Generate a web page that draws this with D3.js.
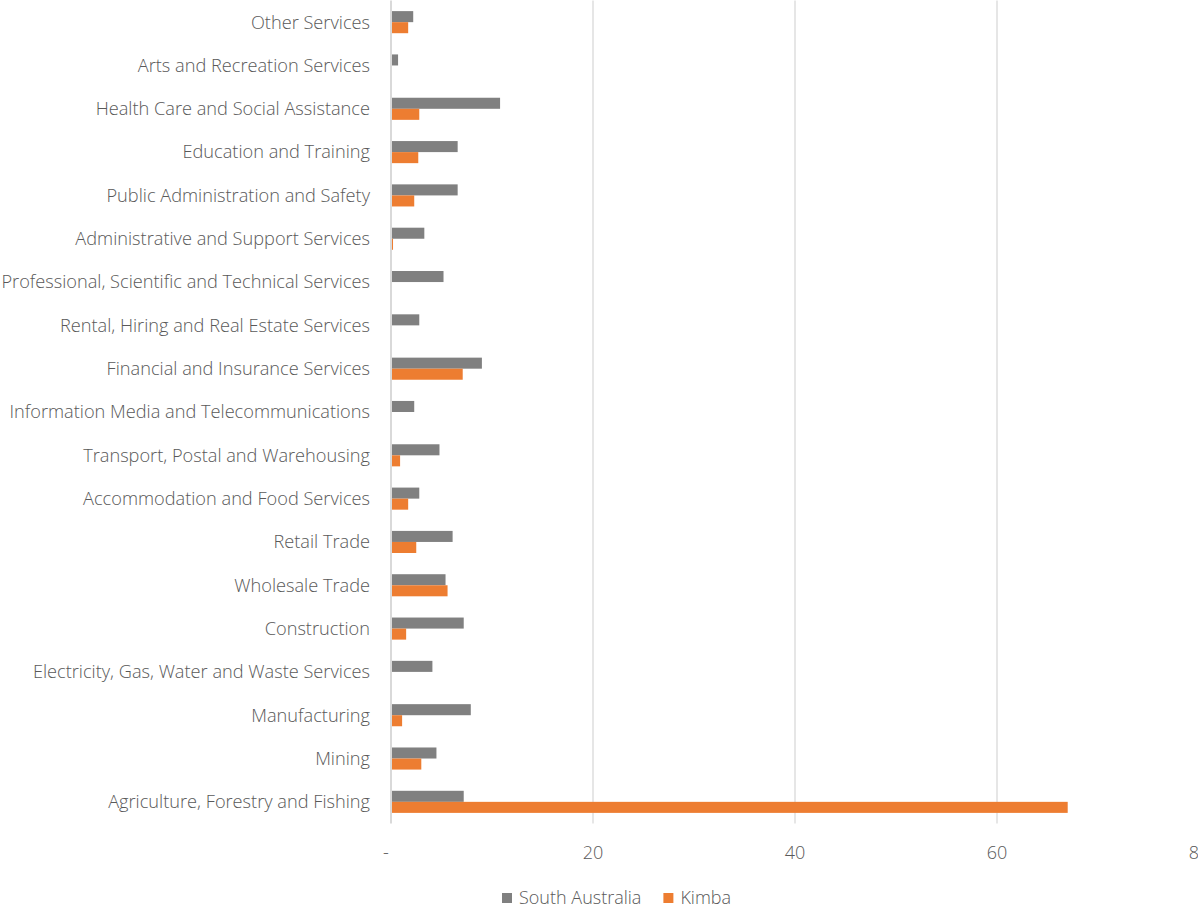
<!DOCTYPE html>
<html>
<head>
<meta charset="utf-8">
<script src="https://cdn.jsdelivr.net/npm/d3@7"></script>
<style>
  body { margin: 0; background: #fff; }
  svg text { font-family: "Open Sans", sans-serif; font-weight: 300; fill: #595959; }
</style>
</head>
<body>
<svg id="chart" width="1198" height="911"></svg>
<script>
// industries, top to bottom
const categories = [
  "Other Services",
  "Arts and Recreation Services",
  "Health Care and Social Assistance",
  "Education and Training",
  "Public Administration and Safety",
  "Administrative and Support Services",
  "Professional, Scientific and Technical Services",
  "Rental, Hiring and Real Estate Services",
  "Financial and Insurance Services",
  "Information Media and Telecommunications",
  "Transport, Postal and Warehousing",
  "Accommodation and Food Services",
  "Retail Trade",
  "Wholesale Trade",
  "Construction",
  "Electricity, Gas, Water and Waste Services",
  "Manufacturing",
  "Mining",
  "Agriculture, Forestry and Fishing"
];
const southAustralia = [2.2, 0.7, 10.8, 6.6, 6.6, 3.3, 5.2, 2.8, 9.0, 2.3, 4.8, 2.8, 6.1, 5.4, 7.2, 4.1, 7.9, 4.5, 7.2];
const kimba = [1.7, 0, 2.8, 2.7, 2.3, 0.2, 0, 0, 7.1, 0, 0.9, 1.7, 2.5, 5.6, 1.5, 0, 1.1, 3.0, 67.0];
const seriesNames = ["South Australia", "Kimba"];
const seriesColors = ["#808080", "#ed7d31"];
const xTicks = [0, 20, 40, 60, 80];

const svg = d3.select("#chart");
const plotLeft = 391, plotRight = 1199, plotTop = 0.5, plotBottom = 823.5;

const x = d3.scaleLinear().domain([0, 80]).range([plotLeft, plotRight]);
const y = d3.scaleBand().domain(categories).range([plotTop, plotBottom]).paddingInner(0.49).paddingOuter(0.245);

// gridlines
svg.append("g").selectAll("line")
  .data(xTicks.filter(d => d > 0))
  .join("line")
  .attr("x1", d => x(d)).attr("x2", d => x(d))
  .attr("y1", plotTop).attr("y2", plotBottom)
  .attr("stroke", "#d9d9d9").attr("stroke-width", 1.3);

// bars
const rows = categories.map((c, i) => ({c, vals: [southAustralia[i], kimba[i]]}));
const sub = d3.scaleBand().domain([0, 1]).range([0, y.bandwidth()]);
const g = svg.append("g").selectAll("g").data(rows).join("g")
  .attr("transform", d => `translate(0,${y(d.c)})`);
g.selectAll("rect")
  .data(d => d.vals.map((v, k) => ({v, k})))
  .join("rect")
  .attr("x", x(0))
  .attr("y", d => sub(d.k))
  .attr("width", d => x(d.v) - x(0))
  .attr("height", sub.bandwidth())
  .attr("fill", d => seriesColors[d.k]);

// zero axis line
svg.append("line")
  .attr("x1", x(0)).attr("x2", x(0))
  .attr("y1", plotTop).attr("y2", plotBottom)
  .attr("stroke", "#d9d9d9").attr("stroke-width", 2);

// category labels
svg.append("g").selectAll("text").data(categories).join("text")
  .attr("x", 370)
  .attr("y", d => y(d) + y.bandwidth() / 2)
  .attr("dy", "0.35em")
  .attr("text-anchor", "end")
  .style("font-size", "18.2px")
  .text(d => d);

// x tick labels
svg.append("g").selectAll("text").data(xTicks).join("text")
  .attr("x", d => d === 0 ? x(d) - 5 : x(d))
  .attr("y", 859)
  .attr("text-anchor", "middle")
  .style("font-size", "18px")
  .text(d => d === 0 ? "-" : d);

// legend, laid out left to right from measured text widths
const legend = svg.append("g").attr("transform", "translate(502,893)");
let lx = 0;
seriesNames.forEach((name, i) => {
  const item = legend.append("g").attr("transform", `translate(${lx},0)`);
  item.append("rect").attr("width", 10).attr("height", 10).attr("fill", seriesColors[i]);
  const t = item.append("text").attr("x", 17).attr("y", 5).attr("dy", "0.35em")
    .style("font-size", "18px").text(name);
  lx += 17 + t.node().getComputedTextLength() + 22;
});
</script>
</body>
</html>
